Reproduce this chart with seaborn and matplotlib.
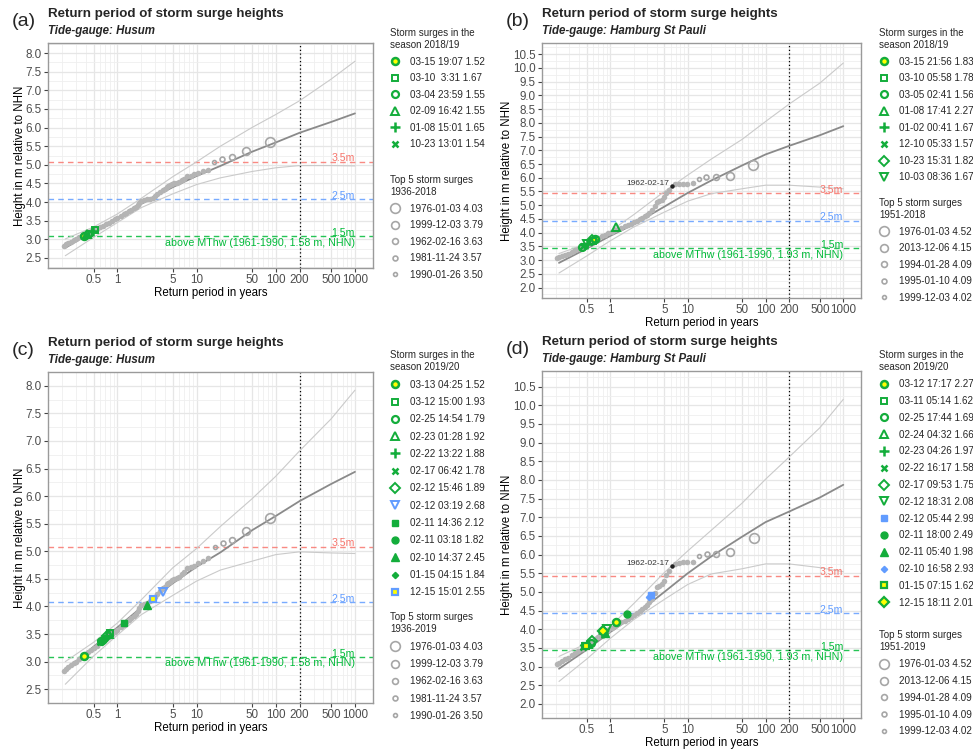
import matplotlib
matplotlib.use("Agg")
import matplotlib.pyplot as plt
from matplotlib.lines import Line2D
from matplotlib.ticker import FixedLocator, FixedFormatter, LogLocator, MultipleLocator, NullFormatter
import seaborn as sns

# ==========================================
# DATA
# ==========================================
# return periods (years) at which the fitted curves were read
curve_T = [0.22, 0.5, 1, 2, 5, 10, 20, 50, 100, 200, 500, 1000]

husum18_fit = [2.77, 3.22, 3.58, 3.95, 4.40, 4.70, 4.97, 5.35, 5.60, 5.86, 6.15, 6.38]
husum18_upper = [3.01, 3.33, 3.68, 4.10, 4.68, 5.08, 5.50, 6.00, 6.35, 6.72, 7.30, 7.78]
husum18_lower = [2.56, 3.05, 3.45, 3.85, 4.22, 4.47, 4.65, 4.82, 4.92, 4.98, 4.98, 4.97]

husum19_fit = [2.84, 3.27, 3.62, 3.98, 4.42, 4.72, 4.98, 5.38, 5.64, 5.91, 6.22, 6.44]
husum19_upper = [3.00, 3.35, 3.70, 4.12, 4.70, 5.05, 5.45, 5.95, 6.36, 6.82, 7.40, 7.92]
husum19_lower = [2.59, 3.10, 3.48, 3.85, 4.20, 4.46, 4.66, 4.82, 4.94, 4.99, 4.97, 4.96]

hamburg18_fit = [2.90, 3.42, 3.88, 4.30, 4.95, 5.45, 5.90, 6.45, 6.85, 7.16, 7.55, 7.88]
hamburg18_upper = [3.24, 3.60, 4.05, 4.65, 5.50, 6.10, 6.68, 7.40, 8.05, 8.68, 9.45, 10.18]
hamburg18_lower = [2.53, 3.15, 3.70, 4.20, 4.75, 5.15, 5.42, 5.60, 5.73, 5.73, 5.66, 5.60]

hamburg19_fit = [2.94, 3.45, 3.92, 4.35, 5.00, 5.50, 5.95, 6.48, 6.87, 7.15, 7.53, 7.87]
hamburg19_upper = [3.27, 3.62, 4.07, 4.68, 5.52, 6.10, 6.65, 7.38, 8.02, 8.61, 9.40, 10.16]
hamburg19_lower = [2.60, 3.20, 3.75, 4.25, 4.80, 5.20, 5.48, 5.62, 5.75, 5.75, 5.65, 5.54]

# observed storm surges (return period in years, height in m NHN)
husum_obs_T = [14.0, 12.0, 10.5, 9.3, 8.4, 7.6, 7.0, 6.5, 6.0, 5.6, 5.25, 4.9, 4.6, 4.4, 4.2,
               4.0, 3.8, 3.5, 3.2, 3.0, 2.8, 2.6, 2.4, 2.2, 2.0, 1.9, 1.8, 1.7, 1.6, 1.5,
               1.4, 1.3, 1.2, 1.1, 1.0, 0.92, 0.85, 0.78, 0.72, 0.66, 0.6, 0.55, 0.5, 0.46, 0.42,
               0.39, 0.36, 0.33, 0.3, 0.28, 0.26, 0.24, 0.225, 0.21]
husum_obs_h = [4.87, 4.83, 4.78, 4.74, 4.71, 4.70, 4.62, 4.58, 4.54, 4.52, 4.50, 4.48, 4.45, 4.43, 4.40,
               4.36, 4.33, 4.28, 4.22, 4.17, 4.12, 4.09, 4.07, 4.05, 4.02, 3.97, 3.92, 3.87, 3.83, 3.79,
               3.75, 3.71, 3.67, 3.63, 3.58, 3.54, 3.50, 3.45, 3.41, 3.37, 3.33, 3.29, 3.25, 3.21, 3.17,
               3.13, 3.09, 3.05, 3.00, 2.97, 2.94, 2.90, 2.87, 2.83]

hamburg_obs_T = [11.5, 9.9, 8.6, 7.7, 6.9, 5.75, 5.3, 4.9, 4.6, 4.3, 4.06, 3.8, 3.5, 3.2, 3.0,
                 2.8, 2.6, 2.4, 2.2, 2.0, 1.85, 1.7, 1.55, 1.4, 1.28, 1.15, 1.05, 0.95, 0.86, 0.78,
                 0.7, 0.63, 0.57, 0.52, 0.47, 0.43, 0.39, 0.35, 0.32, 0.29, 0.265, 0.24, 0.22, 0.205]
hamburg_obs_h = [5.81, 5.79, 5.79, 5.77, 5.76, 5.55, 5.45, 5.30, 5.20, 5.17, 5.12, 4.98, 4.82, 4.72, 4.64,
                 4.59, 4.54, 4.49, 4.44, 4.38, 4.33, 4.28, 4.23, 4.18, 4.13, 4.08, 4.04, 3.99, 3.93, 3.87,
                 3.80, 3.74, 3.67, 3.60, 3.54, 3.48, 3.42, 3.36, 3.30, 3.24, 3.19, 3.14, 3.10, 3.07]
hamburg_flag_T = 6.3
hamburg_flag_h = 5.70
hamburg_flag_label = "1962-02-17"

# mean tide high water (m NHN) per gauge
husum_mthw = 1.58
hamburg_mthw = 1.93
warn_levels = [1.5, 2.5, 3.5]

# top 5 storm surges (m above MThw)
husum_top_dates = ["1976-01-03", "1999-12-03", "1962-02-16", "1981-11-24", "1990-01-26"]
husum_top_vals = [4.03, 3.79, 3.63, 3.57, 3.50]
husum18_top_T = [84, 42, 28, 21, 16.8]
husum19_top_T = [85, 42.5, 28.3, 21.3, 17]

hamburg_top_dates = ["1976-01-03", "2013-12-06", "1994-01-28", "1995-01-10", "1999-12-03"]
hamburg_top_vals = [4.52, 4.15, 4.09, 4.09, 4.02]
hamburg18_top_T = [69, 34.5, 23, 17.3, 13.8]
hamburg19_top_T = [70, 35, 23.3, 17.5, 14]

# storm surges of the season (m above MThw)
husum18_times = ["03-15 19:07", "03-10  3:31", "03-04 23:59", "02-09 16:42", "01-08 15:01", "10-23 13:01"]
husum18_vals = [1.52, 1.67, 1.55, 1.55, 1.65, 1.54]
husum18_T = [0.38, 0.52, 0.42, 0.41, 0.49, 0.40]

hamburg18_times = ["03-15 21:56", "03-10 05:58", "03-05 02:41", "01-08 17:41", "01-02 00:41",
                   "12-10 05:33", "10-23 15:31", "10-03 08:36"]
hamburg18_vals = [1.83, 1.78, 1.56, 2.27, 1.67, 1.57, 1.82, 1.67]
hamburg18_T = [0.64, 0.60, 0.44, 1.19, 0.50, 0.45, 0.58, 0.50]

husum19_times = ["03-13 04:25", "03-12 15:00", "02-25 14:54", "02-23 01:28", "02-22 13:22",
                 "02-17 06:42", "02-12 15:46", "02-12 03:19", "02-11 14:36", "02-11 03:18",
                 "02-10 14:37", "01-15 04:15", "12-15 15:01"]
husum19_vals = [1.52, 1.93, 1.79, 1.92, 1.88, 1.78, 1.89, 2.68, 2.12, 1.82, 2.45, 1.84, 2.55]
husum19_T = [0.38, 0.81, 0.62, 0.78, 0.72, 0.60, 0.75, 3.8, 1.22, 0.65, 2.35, 0.68, 2.85]

hamburg19_times = ["03-12 17:17", "03-11 05:14", "02-25 17:44", "02-24 04:32", "02-23 04:26",
                   "02-22 16:17", "02-17 09:53", "02-12 18:31", "02-12 05:44", "02-11 18:00",
                   "02-11 05:40", "02-10 16:58", "01-15 07:15", "12-15 18:11"]
hamburg19_vals = [2.27, 1.62, 1.69, 1.66, 1.97, 1.58, 1.75, 2.08, 2.99, 2.49, 1.98, 2.93, 1.62, 2.01]
hamburg19_T = [1.19, 0.47, 0.56, 0.52, 0.80, 0.45, 0.58, 0.92, 3.35, 1.66, 0.85, 3.2, 0.49, 0.82]

x_ticks = [0.5, 1, 5, 10, 50, 100, 200, 500, 1000]
x_tick_labels = ["0.5", "1", "5", "10", "50", "100", "200", "500", "1000"]

# ==========================================
# STYLE
# ==========================================
sns.set_theme(style="white")
plt.rcParams['font.family'] = ['Liberation Sans', 'DejaVu Sans']

GREEN = '#13AD3B'
LINE_GREEN = '#00BA38'
BLUE = '#619CFF'
RED = '#F8766D'
LEVEL_COLORS = [LINE_GREEN, BLUE, RED]
GRAY_PT = '#B4B4B4'
GRAY_CIRC = '#A6A6A6'
YELLOW = '#FFFF00'

# pch-like marker sequence used for the storms of the season
MARKERS = [
    dict(marker='o', ms=5.0, fill=YELLOW, mew=1.8),
    dict(marker='s', ms=5.0, fill='none', mew=1.4),
    dict(marker='o', ms=5.0, fill='none', mew=1.6),
    dict(marker='^', ms=6.0, fill='none', mew=1.4),
    dict(marker='+', ms=7.0, fill='none', mew=1.8),
    dict(marker='x', ms=5.0, fill='none', mew=1.8),
    dict(marker='D', ms=5.0, fill='none', mew=1.4),
    dict(marker='v', ms=6.0, fill='none', mew=1.4),
    dict(marker='s', ms=5.0, fill='same', mew=1.0),
    dict(marker='o', ms=5.0, fill='same', mew=1.0),
    dict(marker='^', ms=6.0, fill='same', mew=1.0),
    dict(marker='D', ms=3.2, fill='same', mew=1.0),
    dict(marker='s', ms=5.0, fill=YELLOW, mew=1.6),
    dict(marker='D', ms=5.0, fill=YELLOW, mew=1.6),
]
TOP_SIZES = [7.0, 5.6, 4.2, 3.5, 2.8]

W, H = 973.0, 749.0
fig = plt.figure(figsize=(9.73, 7.49), dpi=100)


def marker_kw(i, color):
    m = MARKERS[i]
    face = color if m['fill'] == 'same' else m['fill']
    return dict(marker=m['marker'], ms=m['ms'], mew=m['mew'], mec=color, mfc=face, color=color, ls='none')


def draw_panel(rect, letter, gauge, fit, upper, lower, obs_T, obs_h, mthw,
               top_T, top_vals, top_dates, top_period,
               season_T, season_vals, season_times, season_name,
               ylim, yticks, flag=None, leg_x=390, leg_y=27, top_y=174, spacing=0.66):
    left, top, right, bottom = rect
    ax = fig.add_axes([left / W, 1 - bottom / H, (right - left) / W, (bottom - top) / H])
    ax.set_xscale('log')

    # grid
    ax.xaxis.set_major_locator(FixedLocator(x_ticks))
    ax.xaxis.set_major_formatter(FixedFormatter(x_tick_labels))
    ax.xaxis.set_minor_locator(LogLocator(base=10, subs=[2, 3, 4, 5, 6, 7, 8, 9], numticks=20))
    ax.xaxis.set_minor_formatter(NullFormatter())
    ax.yaxis.set_major_locator(FixedLocator(yticks))
    ax.yaxis.set_major_formatter(FixedFormatter([f"{v:.1f}" for v in yticks]))
    ax.yaxis.set_minor_locator(MultipleLocator(0.25))
    ax.grid(True, which='major', color='#E6E6E6', lw=0.9)
    ax.grid(True, which='minor', color='#EFEFEF', lw=0.6)
    ax.set_axisbelow(True)

    # warning levels above MThw
    for lvl, col in zip(warn_levels, LEVEL_COLORS):
        ax.axhline(mthw + lvl, color=col, lw=1.0, ls=(0, (4, 3)), alpha=0.85, zorder=1)
        ax.annotate(f"{lvl}m", xy=(1000, mthw + lvl), xytext=(0, 2.5), textcoords='offset points',
                    ha='right', va='center', fontsize=7.6, color=col, zorder=6)
    ax.annotate(f"above MThw (1961-1990, {mthw:.2f} m, NHN)", xy=(1000, mthw + warn_levels[0]),
                xytext=(0, -4.5), textcoords='offset points', ha='right', va='center',
                fontsize=7.7, color=LINE_GREEN, zorder=6)
    ax.axvline(200, color='black', lw=0.9, ls=(0, (1, 2)), zorder=2)

    # fitted return level curve with confidence band
    sns.lineplot(x=curve_T, y=upper, ax=ax, color='#CACACA', lw=0.8, zorder=3)
    sns.lineplot(x=curve_T, y=lower, ax=ax, color='#CACACA', lw=0.8, zorder=3)
    sns.lineplot(x=curve_T, y=fit, ax=ax, color='#8A8A8A', lw=1.3, zorder=3)

    # observed events
    sns.scatterplot(x=obs_T, y=obs_h, ax=ax, color=GRAY_PT, s=16, linewidth=0, zorder=4)
    top_h = [mthw + v for v in top_vals]
    for t, h, sz in zip(top_T, top_h, TOP_SIZES):
        ax.plot(t, h, marker='o', ms=sz, mfc='none', mec=GRAY_CIRC, mew=1.2, ls='none', zorder=4)
    if flag is not None:
        ft, fh, flab = flag
        ax.plot(ft, fh, marker='o', ms=2.2, color='#222222', ls='none', zorder=5)
        ax.annotate(flab, xy=(ft, fh), xytext=(-2, 1.5), textcoords='offset points',
                    ha='right', va='center', fontsize=6, color='#333333', zorder=6)

    # storms of the season
    handles = []
    for i, (t, v) in enumerate(zip(season_T, season_vals)):
        col = BLUE if v >= 2.5 else GREEN
        ax.plot(t, mthw + v, zorder=5, **marker_kw(i, col))
        handles.append(Line2D([], [], **marker_kw(i, col)))
    labels = [f"{s} {v:.2f}" for s, v in zip(season_times, season_vals)]

    ax.set_xlim(0.133, 1690)
    ax.set_ylim(*ylim)
    for sp in ax.spines.values():
        sp.set_visible(True)
        sp.set_color('#9A9A9A')
        sp.set_linewidth(1.0)
    ax.tick_params(which='major', direction='out', length=3, width=0.8, color='#444444',
                   labelcolor='#4D4D4D', labelsize=8.4, pad=1.5, bottom=True, left=True)
    ax.tick_params(which='minor', length=0)
    ax.set_xlabel("Return period in years", fontsize=8.3, color='black', labelpad=0.5)
    ax.set_ylabel("Height in m relative to NHN", fontsize=8.3, color='black', labelpad=0)

    # titles
    fig.text((left - 36) / W, 1 - (top - 22) / H, f"({letter})", fontsize=14, va='center', ha='left')
    fig.text(left / W, 1 - (top - 29) / H, "Return period of storm surge heights",
             fontsize=9.6, fontweight='bold', va='center', ha='left')
    fig.text(left / W, 1 - (top - 12) / H, f"Tide-gauge: {gauge}",
             fontsize=8.3, fontweight='bold', style='italic', va='center', ha='left')

    # legends
    common = dict(loc='upper left', frameon=False, fontsize=7.1, title_fontsize=7.0,
                  handlelength=1.0, handletextpad=1.0, labelspacing=spacing, borderpad=0,
                  borderaxespad=0, alignment='left', numpoints=1)
    leg = fig.legend(handles, labels, bbox_to_anchor=(leg_x / W, 1 - leg_y / H),
                     title=f"Storm surges in the\nseason {season_name}", **common)
    leg.get_title().set_linespacing(1.3)
    top_handles = [Line2D([], [], marker='o', ms=sz, mfc='none', mec=GRAY_CIRC, mew=1.2, ls='none')
                   for sz in TOP_SIZES]
    top_labels = [f"{d} {v:.2f}" for d, v in zip(top_dates, top_vals)]
    leg2 = fig.legend(top_handles, top_labels, bbox_to_anchor=(leg_x / W, 1 - top_y / H),
                      title=f"Top 5 storm surges\n{top_period}", **common)
    leg2.get_title().set_linespacing(1.3)
    return ax


husum_yticks = [2.5 + 0.5 * k for k in range(12)]
hamburg_yticks = [2.0 + 0.5 * k for k in range(18)]

draw_panel((48, 43, 373, 268), 'a', 'Husum', husum18_fit, husum18_upper, husum18_lower,
           husum_obs_T, husum_obs_h, husum_mthw,
           husum18_top_T, husum_top_vals, husum_top_dates, '1936-2018',
           husum18_T, husum18_vals, husum18_times, '2018/19',
           (2.23, 8.27), husum_yticks, leg_x=390, leg_y=28, top_y=175)

draw_panel((542, 43, 861, 298), 'b', 'Hamburg St Pauli', hamburg18_fit, hamburg18_upper, hamburg18_lower,
           hamburg_obs_T, hamburg_obs_h, hamburg_mthw,
           hamburg18_top_T, hamburg_top_vals, hamburg_top_dates, '1951-2018',
           hamburg18_T, hamburg18_vals, hamburg18_times, '2018/19',
           (1.62, 10.91), hamburg_yticks, flag=(hamburg_flag_T, hamburg_flag_h, hamburg_flag_label),
           leg_x=879, leg_y=28, top_y=198)

draw_panel((48, 372, 373, 703), 'c', 'Husum', husum19_fit, husum19_upper, husum19_lower,
           husum_obs_T, husum_obs_h, husum_mthw,
           husum19_top_T, husum_top_vals, husum_top_dates, '1936-2019',
           husum19_T, husum19_vals, husum19_times, '2019/20',
           (2.25, 8.25), husum_yticks, leg_x=390, leg_y=350, top_y=612, spacing=0.74)

draw_panel((542, 371, 861, 718), 'd', 'Hamburg St Pauli', hamburg19_fit, hamburg19_upper, hamburg19_lower,
           hamburg_obs_T, hamburg_obs_h, hamburg_mthw,
           hamburg19_top_T, hamburg_top_vals, hamburg_top_dates, '1951-2019',
           hamburg19_T, hamburg19_vals, hamburg19_times, '2019/20',
           (1.62, 10.92), hamburg_yticks, flag=(hamburg_flag_T, hamburg_flag_h, hamburg_flag_label),
           leg_x=879, leg_y=350, top_y=630, spacing=0.69)

fig.savefig("out.png", dpi=100)
